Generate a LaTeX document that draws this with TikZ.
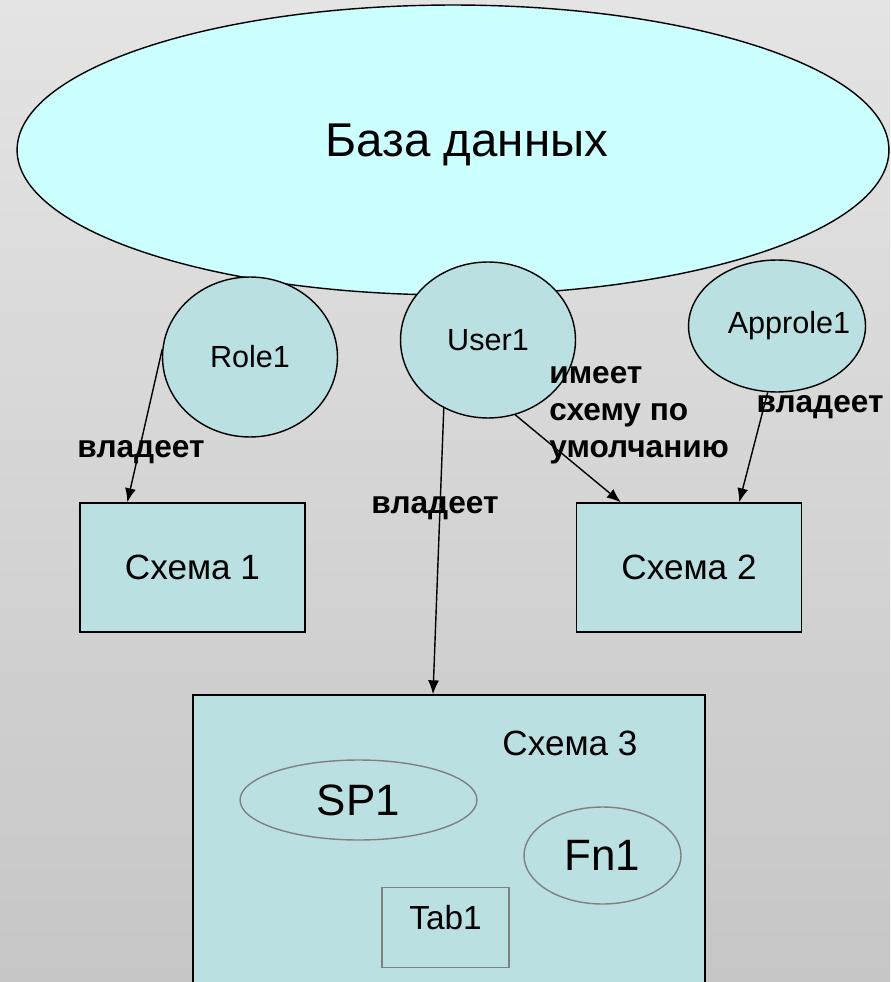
\documentclass[tikz,border=0pt]{standalone}
\usepackage{fontspec}
\setmainfont{Liberation Sans}
\usetikzlibrary{shapes, calc, arrows.meta, positioning}

\definecolor{dbfill}{RGB}{204,255,255}
\definecolor{objfill}{RGB}{186,224,226}
\definecolor{bgtop}{RGB}{228,228,228}
\definecolor{bgbot}{RGB}{198,198,198}

\begin{document}
\begin{tikzpicture}[>={Latex[length=0.28cm, width=0.22cm]}, x=0.02cm, y=-0.02cm,
    principal/.style={ellipse, draw, line width=0.8pt, fill=objfill, inner sep=0pt},
    schemabox/.style={rectangle, draw, line width=0.8pt, fill=objfill, minimum width=4.5cm, minimum height=2.58cm, font=\fontsize{20}{24}\selectfont},
    inner/.style={draw=gray, line width=0.8pt, fill=objfill, inner sep=0pt},
    owns/.style={font=\bfseries\fontsize{18}{21}\selectfont}]

% фон
\shade[top color=bgtop, bottom color=bgbot] (0,0) rectangle (890,982);
\useasboundingbox (0,0) rectangle (890,982);
\clip (0,0) rectangle (890,982);

% база данных и её участники
\node[ellipse, draw, line width=0.8pt, fill=dbfill, minimum width=17.44cm, minimum height=5.8cm] (db) at (453,150) {};
\node[font=\fontsize{27}{32}\selectfont] (dbname) at (467,145) {База данных};

\node[principal, minimum width=3.5cm, minimum height=3.2cm, font=\fontsize{17.4}{20}\selectfont] (role1) at (250,357) {Role1};
\node[principal, minimum width=3.5cm, minimum height=3.12cm, font=\fontsize{17.4}{20}\selectfont] (user1) at (488,340) {User1};
\node[principal, minimum width=3.54cm, minimum height=2.64cm,
  label={[font=\fontsize{17.4}{20}\selectfont, xshift=0.24cm]center:Approle1}] (approle1) at (777,326) {};

% схемы
\node[schemabox] (s1) at (192.5,567.5) {Схема 1};
\node[schemabox] (s2) at (689,567.5) {Схема 2};
\node[rectangle, draw, line width=0.8pt, fill=objfill, minimum width=10.24cm, minimum height=6.2cm] (s3) at (449,850) {};
\node[font=\fontsize{20}{24}\selectfont] (s3name) at (570,743) {Схема 3};

\node[inner, ellipse, minimum width=4.74cm, minimum height=1.6cm, font=\fontsize{25}{30}\selectfont] (sp1) at (358.5,800) {SP1};
\node[inner, ellipse, minimum width=3.14cm, minimum height=1.94cm, font=\fontsize{25}{30}\selectfont] (fn1) at (602.5,855.5) {Fn1};
\node[inner, rectangle, minimum width=2.54cm, minimum height=1.6cm, text depth=0.4cm, font=\fontsize{19}{22}\selectfont] (tab1) at (445.5,927.5) {Tab1};

% связи
\draw[->, line width=0.8pt] (role1.175) -- ([xshift=0.96cm]s1.north west);
\draw[->, line width=0.8pt] (user1.237) -- ([xshift=-0.32cm]s3.north);
\draw[->, line width=0.8pt] (user1.290) -- ([xshift=0.9cm]s2.north west);
\draw[->, line width=0.8pt] (approle1.262) -- ([xshift=-1.26cm]s2.north east);

\node[owns] (own1) at (141,452) {владеет};
\node[owns] (own2) at (435,508) {владеет};
\node[owns] (own3) at (820,407) {владеет};
\node[owns, align=left, anchor=west, inner sep=0pt] (dflt) at (549,415) {имеет\\схему по\\умолчанию};

\end{tikzpicture}
\end{document}
